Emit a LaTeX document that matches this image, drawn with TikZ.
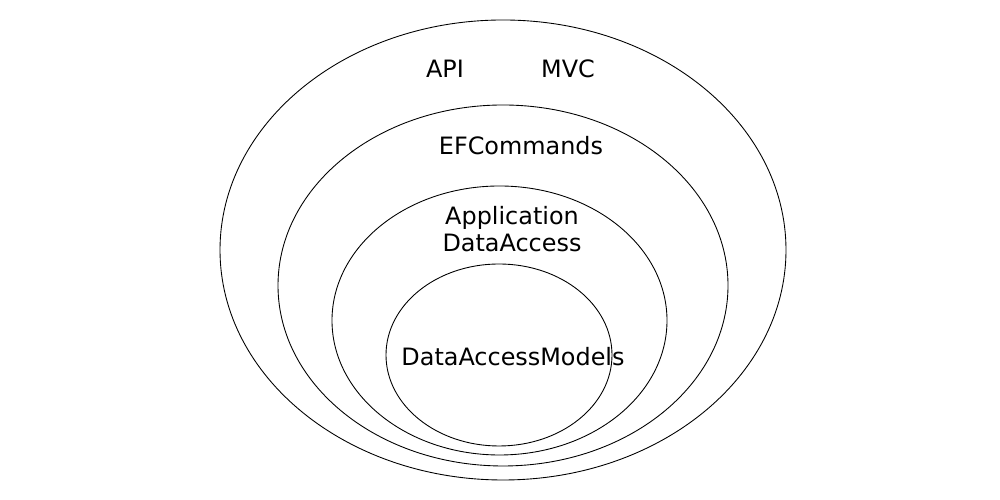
\documentclass[tikz,border=0pt]{standalone}
\usepackage{fontspec}
\setmainfont{DejaVu Sans}
\usetikzlibrary{shapes.geometric}
\usetikzlibrary{positioning}
\tikzset{
    layer/.style = {ellipse, draw=black, line width=0.5pt, inner sep=0pt},
    lbl/.style = {align=center, font=\fontsize{13.6pt}{15.4pt}\selectfont, inner sep=0pt},
}
\begin{document}
\begin{tikzpicture}
\useasboundingbox (0,0) rectangle (20,10);
\node[layer, minimum width=11.32cm, minimum height=9.2cm] at (10.06,5.00) (web) {};
\node[layer, minimum width=9.00cm, minimum height=7.22cm] at (10.06,4.29) (ef) {};
\node[layer, minimum width=6.70cm, minimum height=5.38cm] at (9.99,3.59) (app) {};
\node[layer, minimum width=4.52cm, minimum height=3.64cm] at (9.98,2.90) (models) {};
%
\node[lbl] at (8.90,8.62) (api) {API};
\node[lbl] at (11.36,8.62) (mvc) {MVC};
\node[lbl] at (10.42,7.08) (efc) {EFCommands};
\node[lbl] at (10.24,5.41) (appda) {Application\\DataAccess};
\node[lbl] at (10.26,2.86) (dam) {DataAccessModels};
\end{tikzpicture}
\end{document}
